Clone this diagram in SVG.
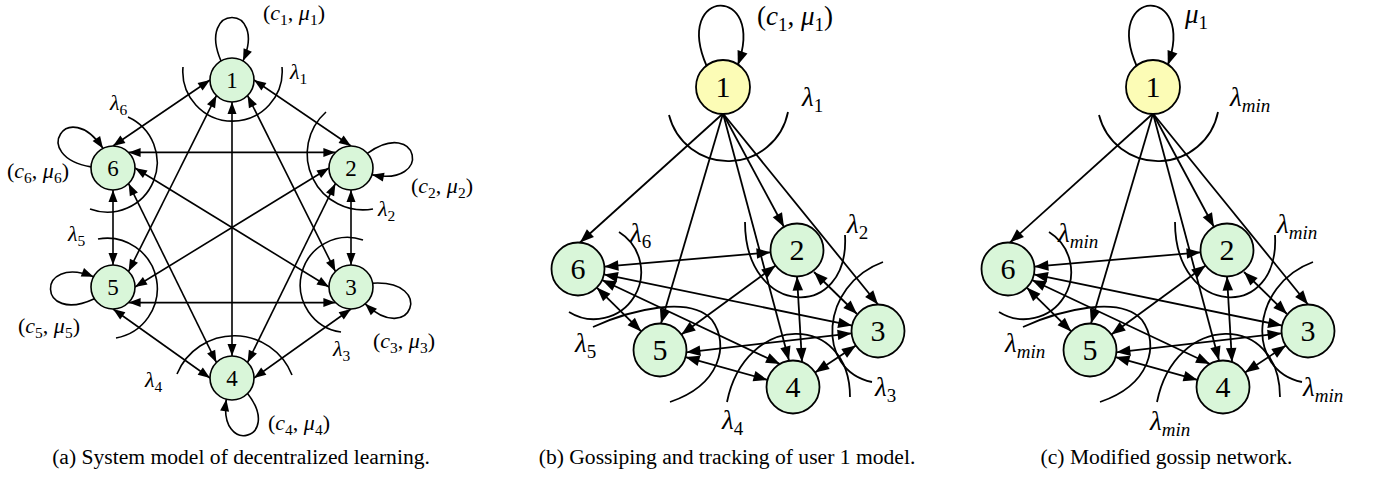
<svg xmlns="http://www.w3.org/2000/svg" width="1380" height="481" viewBox="0 0 1380 481">
<rect width="1380" height="481" fill="#fff"/>
<g id="a-arcs" fill="none" stroke="#000" stroke-width="1.6">
<path d="M183,67 A49.7,49.7 0 1 0 282,67"/>
<path d="M326,112 A56,56 0 0 0 373,209"/>
<path d="M363,240 A47.5,47.5 0 1 0 341,332"/>
<path d="M177,374 A62,62 0 0 1 292,375"/>
<path d="M98,239 A50.3,50.3 0 0 1 116,338"/>
<path d="M128,117 A49.8,49.8 0 0 1 90,209"/>
</g>
<g id="a-connectors">
<g fill="none" stroke="#000" stroke-width="1.6">
<path d="M210,80 L113,146"/>
<path d="M254,80 L351,146"/>
<path d="M232,102 L232,356"/>
<path d="M216.4,95.6 L128.6,271.4"/>
<path d="M247.6,95.6 L335.4,271.4"/>
<path d="M128.6,152.4 L335.4,152.4"/>
<path d="M135,168 L329,287"/>
<path d="M113,190 L113,265"/>
<path d="M128.6,183.6 L216.4,362.4"/>
<path d="M329,168 L135,287"/>
<path d="M351,190 L351,265"/>
<path d="M335.4,183.6 L247.6,362.4"/>
<path d="M128.6,302.6 L335.4,302.6"/>
<path d="M113,309 L210,378"/>
<path d="M351,309 L254,378"/>
<path d="M221,60.95 C196.1,3 267.9,3 243,60.95"/>
<path d="M367.35,153.28 C418.9,116.8 433.8,187.1 371.92,174.8"/>
<path d="M372.67,283.18 C435.7,279.6 411.1,347.1 365.14,303.85"/>
<path d="M247.56,393.56 C283.4,439.3 218.1,456.8 226.3,399.25"/>
<path d="M94.34,298.66 C37.27,325.6 34.76,253.8 93.58,276.67"/>
<path d="M91.03,166.85 C28.8,156.2 67.96,95.9 103.01,148.4"/>
</g>
<g fill="#000">
<polygon points="0,0 -12,-4.5 -12,4.5" transform="translate(113,146) rotate(145.8)"/>
<polygon points="0,0 -12,-4.5 -12,4.5" transform="translate(210,80) rotate(-34.2)"/>
<polygon points="0,0 -12,-4.5 -12,4.5" transform="translate(351,146) rotate(34.2)"/>
<polygon points="0,0 -12,-4.5 -12,4.5" transform="translate(254,80) rotate(-145.8)"/>
<polygon points="0,0 -12,-4.5 -12,4.5" transform="translate(232,356) rotate(90)"/>
<polygon points="0,0 -12,-4.5 -12,4.5" transform="translate(232,102) rotate(-90)"/>
<polygon points="0,0 -12,-4.5 -12,4.5" transform="translate(128.6,271.4) rotate(116.5)"/>
<polygon points="0,0 -12,-4.5 -12,4.5" transform="translate(216.4,95.6) rotate(-63.5)"/>
<polygon points="0,0 -12,-4.5 -12,4.5" transform="translate(335.4,271.4) rotate(63.5)"/>
<polygon points="0,0 -12,-4.5 -12,4.5" transform="translate(247.6,95.6) rotate(-116.5)"/>
<polygon points="0,0 -12,-4.5 -12,4.5" transform="translate(335.4,152.4) rotate(0)"/>
<polygon points="0,0 -12,-4.5 -12,4.5" transform="translate(128.6,152.4) rotate(180)"/>
<polygon points="0,0 -12,-4.5 -12,4.5" transform="translate(329,287) rotate(31.5)"/>
<polygon points="0,0 -12,-4.5 -12,4.5" transform="translate(135,168) rotate(-148.5)"/>
<polygon points="0,0 -12,-4.5 -12,4.5" transform="translate(113,265) rotate(90)"/>
<polygon points="0,0 -12,-4.5 -12,4.5" transform="translate(113,190) rotate(-90)"/>
<polygon points="0,0 -12,-4.5 -12,4.5" transform="translate(216.4,362.4) rotate(63.9)"/>
<polygon points="0,0 -12,-4.5 -12,4.5" transform="translate(128.6,183.6) rotate(-116.1)"/>
<polygon points="0,0 -12,-4.5 -12,4.5" transform="translate(135,287) rotate(148.5)"/>
<polygon points="0,0 -12,-4.5 -12,4.5" transform="translate(329,168) rotate(-31.5)"/>
<polygon points="0,0 -12,-4.5 -12,4.5" transform="translate(351,265) rotate(90)"/>
<polygon points="0,0 -12,-4.5 -12,4.5" transform="translate(351,190) rotate(-90)"/>
<polygon points="0,0 -12,-4.5 -12,4.5" transform="translate(247.6,362.4) rotate(116.2)"/>
<polygon points="0,0 -12,-4.5 -12,4.5" transform="translate(335.4,183.6) rotate(-63.8)"/>
<polygon points="0,0 -12,-4.5 -12,4.5" transform="translate(335.4,302.6) rotate(0)"/>
<polygon points="0,0 -12,-4.5 -12,4.5" transform="translate(128.6,302.6) rotate(180)"/>
<polygon points="0,0 -12,-4.5 -12,4.5" transform="translate(210,378) rotate(35.4)"/>
<polygon points="0,0 -12,-4.5 -12,4.5" transform="translate(113,309) rotate(-144.6)"/>
<polygon points="0,0 -12,-4.5 -12,4.5" transform="translate(254,378) rotate(144.6)"/>
<polygon points="0,0 -12,-4.5 -12,4.5" transform="translate(351,309) rotate(-35.4)"/>
<polygon points="0,0 -12,-4.5 -12,4.5" transform="translate(243,60.95) rotate(113.3)"/>
<polygon points="0,0 -12,-4.5 -12,4.5" transform="translate(371.92,174.8) rotate(-168.8)"/>
<polygon points="0,0 -12,-4.5 -12,4.5" transform="translate(365.14,303.85) rotate(-136.7)"/>
<polygon points="0,0 -12,-4.5 -12,4.5" transform="translate(226.3,399.25) rotate(-81.9)"/>
<polygon points="0,0 -12,-4.5 -12,4.5" transform="translate(93.58,276.67) rotate(21.3)"/>
<polygon points="0,0 -12,-4.5 -12,4.5" transform="translate(103.01,148.4) rotate(56.3)"/>
</g>
</g>
<g id="a-node1"><circle cx="232" cy="80" r="22" fill="#d9f6d9" stroke="#000" stroke-width="1.6"/><text font-family="Liberation Serif" font-size="23" text-anchor="middle" x="232" y="87.8">1</text></g>
<g id="a-node2"><circle cx="351" cy="168" r="22" fill="#d9f6d9" stroke="#000" stroke-width="1.6"/><text font-family="Liberation Serif" font-size="23" text-anchor="middle" x="351" y="175.8">2</text></g>
<g id="a-node3"><circle cx="351" cy="287" r="22" fill="#d9f6d9" stroke="#000" stroke-width="1.6"/><text font-family="Liberation Serif" font-size="23" text-anchor="middle" x="351" y="294.8">3</text></g>
<g id="a-node4"><circle cx="232" cy="378" r="22" fill="#d9f6d9" stroke="#000" stroke-width="1.6"/><text font-family="Liberation Serif" font-size="23" text-anchor="middle" x="232" y="385.8">4</text></g>
<g id="a-node5"><circle cx="113" cy="287" r="22" fill="#d9f6d9" stroke="#000" stroke-width="1.6"/><text font-family="Liberation Serif" font-size="23" text-anchor="middle" x="113" y="294.8">5</text></g>
<g id="a-node6"><circle cx="113" cy="168" r="22" fill="#d9f6d9" stroke="#000" stroke-width="1.6"/><text font-family="Liberation Serif" font-size="23" text-anchor="middle" x="113" y="175.8">6</text></g>
<g id="a-labels">
<text font-family="Liberation Serif" font-size="22" x="263" y="20">(<tspan font-style="italic">c</tspan><tspan dy="4.5" font-size="15.5">1</tspan><tspan dy="-4.5">, </tspan><tspan font-style="italic">μ</tspan><tspan dy="4.5" font-size="15.5">1</tspan><tspan dy="-4.5">)</tspan></text>
<text font-family="Liberation Serif" font-size="22" x="411" y="193">(<tspan font-style="italic">c</tspan><tspan dy="4.5" font-size="15.5">2</tspan><tspan dy="-4.5">, </tspan><tspan font-style="italic">μ</tspan><tspan dy="4.5" font-size="15.5">2</tspan><tspan dy="-4.5">)</tspan></text>
<text font-family="Liberation Serif" font-size="22" x="373" y="348">(<tspan font-style="italic">c</tspan><tspan dy="4.5" font-size="15.5">3</tspan><tspan dy="-4.5">, </tspan><tspan font-style="italic">μ</tspan><tspan dy="4.5" font-size="15.5">3</tspan><tspan dy="-4.5">)</tspan></text>
<text font-family="Liberation Serif" font-size="22" x="268" y="430">(<tspan font-style="italic">c</tspan><tspan dy="4.5" font-size="15.5">4</tspan><tspan dy="-4.5">, </tspan><tspan font-style="italic">μ</tspan><tspan dy="4.5" font-size="15.5">4</tspan><tspan dy="-4.5">)</tspan></text>
<text font-family="Liberation Serif" font-size="22" x="18" y="333">(<tspan font-style="italic">c</tspan><tspan dy="4.5" font-size="15.5">5</tspan><tspan dy="-4.5">, </tspan><tspan font-style="italic">μ</tspan><tspan dy="4.5" font-size="15.5">5</tspan><tspan dy="-4.5">)</tspan></text>
<text font-family="Liberation Serif" font-size="22" x="7" y="178">(<tspan font-style="italic">c</tspan><tspan dy="4.5" font-size="15.5">6</tspan><tspan dy="-4.5">, </tspan><tspan font-style="italic">μ</tspan><tspan dy="4.5" font-size="15.5">6</tspan><tspan dy="-4.5">)</tspan></text>
<text font-family="Liberation Serif" font-size="22" x="290" y="79"><tspan font-style="italic">λ</tspan><tspan dy="4.5" font-size="15.5">1</tspan></text>
<text font-family="Liberation Serif" font-size="22" x="378" y="216"><tspan font-style="italic">λ</tspan><tspan dy="4.5" font-size="15.5">2</tspan></text>
<text font-family="Liberation Serif" font-size="22" x="333" y="356"><tspan font-style="italic">λ</tspan><tspan dy="4.5" font-size="15.5">3</tspan></text>
<text font-family="Liberation Serif" font-size="22" x="145" y="387"><tspan font-style="italic">λ</tspan><tspan dy="4.5" font-size="15.5">4</tspan></text>
<text font-family="Liberation Serif" font-size="22" x="68" y="241"><tspan font-style="italic">λ</tspan><tspan dy="4.5" font-size="15.5">5</tspan></text>
<text font-family="Liberation Serif" font-size="22" x="110" y="110"><tspan font-style="italic">λ</tspan><tspan dy="4.5" font-size="15.5">6</tspan></text>
<text font-family="Liberation Serif" font-size="21.6" text-anchor="middle" x="241" y="464">(a) System model of decentralized learning.</text>
</g>
<g id="b-arcs" fill="none" stroke="#000" stroke-width="1.8">
<path d="M669,115 A61,61 0 0 0 788,112"/>
<path d="M619,232 A47,47 0 0 1 569,312"/>
<path d="M745,222 C745,318 850,322 845,235"/>
<path d="M883,262 C820,285 815,370 872,382"/>
<path d="M727,402 C745,312 850,312 850,397"/>
<path d="M593,327 C630,310 690,295 712,320 C730,345 720,385 670,402"/>
</g>
<g id="b-connectors">
<g fill="none" stroke="#000" stroke-width="1.8">
<path d="M723,113.5 L580,242.5"/>
<path d="M723,113.5 L661,323.5"/>
<path d="M723,113.5 L789,360.5"/>
<path d="M723,113.5 L784,227"/>
<path d="M723,113.5 L878,304.5"/>
<path d="M706.7,66.1 C672.2,-12.8 766.8,-16.1 737.8,65"/>
<path d="M604.4,266.7 L770.6,252.3"/>
<path d="M603.9,274.4 L852.1,325.6"/>
<path d="M602,280 L780,364"/>
<path d="M596.8,287.6 L641.2,331.4"/>
<path d="M775.6,265.6 L681.4,334.4"/>
<path d="M797,276.5 L802,362"/>
<path d="M814,272 L857,314"/>
<path d="M851.6,333.3 L686.4,352.3"/>
<path d="M855.9,345.6 L815.1,372.4"/>
<path d="M685.5,357.1 L767.5,379.9"/>
</g>
<g fill="#000">
<polygon points="0,0 -14,-5.25 -14,5.25" transform="translate(580,242.5) rotate(137.95)"/>
<polygon points="0,0 -14,-5.25 -14,5.25" transform="translate(661,323.5) rotate(106.45)"/>
<polygon points="0,0 -14,-5.25 -14,5.25" transform="translate(789,360.5) rotate(75.04)"/>
<polygon points="0,0 -14,-5.25 -14,5.25" transform="translate(784,227) rotate(61.75)"/>
<polygon points="0,0 -14,-5.25 -14,5.25" transform="translate(878,304.5) rotate(50.94)"/>
<polygon points="0,0 -14,-5.25 -14,5.25" transform="translate(737.8,65) rotate(109.7)"/>
<polygon points="0,0 -14,-5.25 -14,5.25" transform="translate(770.6,252.3) rotate(-4.95)"/>
<polygon points="0,0 -14,-5.25 -14,5.25" transform="translate(604.4,266.7) rotate(175.05)"/>
<polygon points="0,0 -14,-5.25 -14,5.25" transform="translate(852.1,325.6) rotate(11.66)"/>
<polygon points="0,0 -14,-5.25 -14,5.25" transform="translate(603.9,274.4) rotate(-168.34)"/>
<polygon points="0,0 -14,-5.25 -14,5.25" transform="translate(780,364) rotate(25.26)"/>
<polygon points="0,0 -14,-5.25 -14,5.25" transform="translate(602,280) rotate(-154.74)"/>
<polygon points="0,0 -14,-5.25 -14,5.25" transform="translate(641.2,331.4) rotate(44.6)"/>
<polygon points="0,0 -14,-5.25 -14,5.25" transform="translate(596.8,287.6) rotate(-135.4)"/>
<polygon points="0,0 -14,-5.25 -14,5.25" transform="translate(681.4,334.4) rotate(143.9)"/>
<polygon points="0,0 -14,-5.25 -14,5.25" transform="translate(775.6,265.6) rotate(-36.1)"/>
<polygon points="0,0 -14,-5.25 -14,5.25" transform="translate(802,362) rotate(86.65)"/>
<polygon points="0,0 -14,-5.25 -14,5.25" transform="translate(797,276.5) rotate(-93.35)"/>
<polygon points="0,0 -14,-5.25 -14,5.25" transform="translate(857,314) rotate(44.3)"/>
<polygon points="0,0 -14,-5.25 -14,5.25" transform="translate(814,272) rotate(-135.7)"/>
<polygon points="0,0 -14,-5.25 -14,5.25" transform="translate(686.4,352.3) rotate(173.4)"/>
<polygon points="0,0 -14,-5.25 -14,5.25" transform="translate(851.6,333.3) rotate(-6.56)"/>
<polygon points="0,0 -14,-5.25 -14,5.25" transform="translate(815.1,372.4) rotate(146.7)"/>
<polygon points="0,0 -14,-5.25 -14,5.25" transform="translate(855.9,345.6) rotate(-33.3)"/>
<polygon points="0,0 -14,-5.25 -14,5.25" transform="translate(767.5,379.9) rotate(15.5)"/>
<polygon points="0,0 -14,-5.25 -14,5.25" transform="translate(685.5,357.1) rotate(-164.5)"/>
</g>
</g>
<g id="b-node1"><circle cx="723" cy="87" r="27" fill="#fcfcb6" stroke="#000" stroke-width="1.8"/><text font-family="Liberation Serif" font-size="30" text-anchor="middle" x="723" y="97">1</text></g>
<g id="b-node2"><circle cx="797" cy="250" r="26.5" fill="#d9f6d9" stroke="#000" stroke-width="1.8"/><text font-family="Liberation Serif" font-size="30" text-anchor="middle" x="797" y="260">2</text></g>
<g id="b-node3"><circle cx="878" cy="331" r="26.5" fill="#d9f6d9" stroke="#000" stroke-width="1.8"/><text font-family="Liberation Serif" font-size="30" text-anchor="middle" x="878" y="341">3</text></g>
<g id="b-node4"><circle cx="793" cy="387" r="26.5" fill="#d9f6d9" stroke="#000" stroke-width="1.8"/><text font-family="Liberation Serif" font-size="30" text-anchor="middle" x="793" y="397">4</text></g>
<g id="b-node5"><circle cx="660" cy="350" r="26.5" fill="#d9f6d9" stroke="#000" stroke-width="1.8"/><text font-family="Liberation Serif" font-size="30" text-anchor="middle" x="660" y="360">5</text></g>
<g id="b-node6"><circle cx="578" cy="269" r="26.5" fill="#d9f6d9" stroke="#000" stroke-width="1.8"/><text font-family="Liberation Serif" font-size="30" text-anchor="middle" x="578" y="279">6</text></g>
<g id="b-labels">
<text font-family="Liberation Serif" font-size="27" x="757" y="25">(<tspan font-style="italic">c</tspan><tspan dy="5.5" font-size="19">1</tspan><tspan dy="-5.5">, </tspan><tspan font-style="italic">μ</tspan><tspan dy="5.5" font-size="19">1</tspan><tspan dy="-5.5">)</tspan></text>
<text font-family="Liberation Serif" font-size="27" x="802" y="106"><tspan font-style="italic">λ</tspan><tspan dy="5.5" font-size="19">1</tspan></text>
<text font-family="Liberation Serif" font-size="27" x="847" y="233"><tspan font-style="italic">λ</tspan><tspan dy="5.5" font-size="19">2</tspan></text>
<text font-family="Liberation Serif" font-size="27" x="875" y="396"><tspan font-style="italic">λ</tspan><tspan dy="5.5" font-size="19">3</tspan></text>
<text font-family="Liberation Serif" font-size="27" x="722" y="429"><tspan font-style="italic">λ</tspan><tspan dy="5.5" font-size="19">4</tspan></text>
<text font-family="Liberation Serif" font-size="27" x="575" y="352"><tspan font-style="italic">λ</tspan><tspan dy="5.5" font-size="19">5</tspan></text>
<text font-family="Liberation Serif" font-size="27" x="630" y="242"><tspan font-style="italic">λ</tspan><tspan dy="5.5" font-size="19">6</tspan></text>
<text font-family="Liberation Serif" font-size="21.6" text-anchor="middle" x="727" y="464">(b) Gossiping and tracking of user 1 model.</text>
</g>
<g id="c-arcs" transform="translate(430,0)" fill="none" stroke="#000" stroke-width="1.8">
<path d="M669,115 A61,61 0 0 0 788,112"/>
<path d="M619,232 A47,47 0 0 1 569,312"/>
<path d="M745,222 C745,318 850,322 845,235"/>
<path d="M883,262 C820,285 815,370 872,382"/>
<path d="M727,402 C745,312 850,312 850,397"/>
<path d="M593,327 C630,310 690,295 712,320 C730,345 720,385 670,402"/>
</g>
<g id="c-connectors" transform="translate(430,0)">
<g fill="none" stroke="#000" stroke-width="1.8">
<path d="M723,113.5 L580,242.5"/>
<path d="M723,113.5 L661,323.5"/>
<path d="M723,113.5 L789,360.5"/>
<path d="M723,113.5 L784,227"/>
<path d="M723,113.5 L878,304.5"/>
<path d="M706.7,66.1 C672.2,-12.8 766.8,-16.1 737.8,65"/>
<path d="M604.4,266.7 L770.6,252.3"/>
<path d="M603.9,274.4 L852.1,325.6"/>
<path d="M602,280 L780,364"/>
<path d="M596.8,287.6 L641.2,331.4"/>
<path d="M775.6,265.6 L681.4,334.4"/>
<path d="M797,276.5 L802,362"/>
<path d="M814,272 L857,314"/>
<path d="M851.6,333.3 L686.4,352.3"/>
<path d="M855.9,345.6 L815.1,372.4"/>
<path d="M685.5,357.1 L767.5,379.9"/>
</g>
<g fill="#000">
<polygon points="0,0 -14,-5.25 -14,5.25" transform="translate(580,242.5) rotate(137.95)"/>
<polygon points="0,0 -14,-5.25 -14,5.25" transform="translate(661,323.5) rotate(106.45)"/>
<polygon points="0,0 -14,-5.25 -14,5.25" transform="translate(789,360.5) rotate(75.04)"/>
<polygon points="0,0 -14,-5.25 -14,5.25" transform="translate(784,227) rotate(61.75)"/>
<polygon points="0,0 -14,-5.25 -14,5.25" transform="translate(878,304.5) rotate(50.94)"/>
<polygon points="0,0 -14,-5.25 -14,5.25" transform="translate(737.8,65) rotate(109.7)"/>
<polygon points="0,0 -14,-5.25 -14,5.25" transform="translate(770.6,252.3) rotate(-4.95)"/>
<polygon points="0,0 -14,-5.25 -14,5.25" transform="translate(604.4,266.7) rotate(175.05)"/>
<polygon points="0,0 -14,-5.25 -14,5.25" transform="translate(852.1,325.6) rotate(11.66)"/>
<polygon points="0,0 -14,-5.25 -14,5.25" transform="translate(603.9,274.4) rotate(-168.34)"/>
<polygon points="0,0 -14,-5.25 -14,5.25" transform="translate(780,364) rotate(25.26)"/>
<polygon points="0,0 -14,-5.25 -14,5.25" transform="translate(602,280) rotate(-154.74)"/>
<polygon points="0,0 -14,-5.25 -14,5.25" transform="translate(641.2,331.4) rotate(44.6)"/>
<polygon points="0,0 -14,-5.25 -14,5.25" transform="translate(596.8,287.6) rotate(-135.4)"/>
<polygon points="0,0 -14,-5.25 -14,5.25" transform="translate(681.4,334.4) rotate(143.9)"/>
<polygon points="0,0 -14,-5.25 -14,5.25" transform="translate(775.6,265.6) rotate(-36.1)"/>
<polygon points="0,0 -14,-5.25 -14,5.25" transform="translate(802,362) rotate(86.65)"/>
<polygon points="0,0 -14,-5.25 -14,5.25" transform="translate(797,276.5) rotate(-93.35)"/>
<polygon points="0,0 -14,-5.25 -14,5.25" transform="translate(857,314) rotate(44.3)"/>
<polygon points="0,0 -14,-5.25 -14,5.25" transform="translate(814,272) rotate(-135.7)"/>
<polygon points="0,0 -14,-5.25 -14,5.25" transform="translate(686.4,352.3) rotate(173.4)"/>
<polygon points="0,0 -14,-5.25 -14,5.25" transform="translate(851.6,333.3) rotate(-6.56)"/>
<polygon points="0,0 -14,-5.25 -14,5.25" transform="translate(815.1,372.4) rotate(146.7)"/>
<polygon points="0,0 -14,-5.25 -14,5.25" transform="translate(855.9,345.6) rotate(-33.3)"/>
<polygon points="0,0 -14,-5.25 -14,5.25" transform="translate(767.5,379.9) rotate(15.5)"/>
<polygon points="0,0 -14,-5.25 -14,5.25" transform="translate(685.5,357.1) rotate(-164.5)"/>
</g>
</g>
<g id="c-node1"><circle cx="1153" cy="87" r="27" fill="#fcfcb6" stroke="#000" stroke-width="1.8"/><text font-family="Liberation Serif" font-size="30" text-anchor="middle" x="1153" y="97">1</text></g>
<g id="c-node2"><circle cx="1227" cy="250" r="26.5" fill="#d9f6d9" stroke="#000" stroke-width="1.8"/><text font-family="Liberation Serif" font-size="30" text-anchor="middle" x="1227" y="260">2</text></g>
<g id="c-node3"><circle cx="1308" cy="331" r="26.5" fill="#d9f6d9" stroke="#000" stroke-width="1.8"/><text font-family="Liberation Serif" font-size="30" text-anchor="middle" x="1308" y="341">3</text></g>
<g id="c-node4"><circle cx="1223" cy="387" r="26.5" fill="#d9f6d9" stroke="#000" stroke-width="1.8"/><text font-family="Liberation Serif" font-size="30" text-anchor="middle" x="1223" y="397">4</text></g>
<g id="c-node5"><circle cx="1090" cy="350" r="26.5" fill="#d9f6d9" stroke="#000" stroke-width="1.8"/><text font-family="Liberation Serif" font-size="30" text-anchor="middle" x="1090" y="360">5</text></g>
<g id="c-node6"><circle cx="1008" cy="269" r="26.5" fill="#d9f6d9" stroke="#000" stroke-width="1.8"/><text font-family="Liberation Serif" font-size="30" text-anchor="middle" x="1008" y="279">6</text></g>
<g id="c-labels">
<text font-family="Liberation Serif" font-size="27" x="1185" y="23"><tspan font-style="italic">μ</tspan><tspan dy="5.5" font-size="19">1</tspan></text>
<text font-family="Liberation Serif" font-size="27" x="1230" y="106"><tspan font-style="italic">λ</tspan><tspan font-style="italic" dy="5.5" font-size="19">min</tspan></text>
<text font-family="Liberation Serif" font-size="27" x="1277" y="233"><tspan font-style="italic">λ</tspan><tspan font-style="italic" dy="5.5" font-size="19">min</tspan></text>
<text font-family="Liberation Serif" font-size="27" x="1303" y="396"><tspan font-style="italic">λ</tspan><tspan font-style="italic" dy="5.5" font-size="19">min</tspan></text>
<text font-family="Liberation Serif" font-size="27" x="1150" y="430"><tspan font-style="italic">λ</tspan><tspan font-style="italic" dy="5.5" font-size="19">min</tspan></text>
<text font-family="Liberation Serif" font-size="27" x="1005" y="352"><tspan font-style="italic">λ</tspan><tspan font-style="italic" dy="5.5" font-size="19">min</tspan></text>
<text font-family="Liberation Serif" font-size="27" x="1058" y="242"><tspan font-style="italic">λ</tspan><tspan font-style="italic" dy="5.5" font-size="19">min</tspan></text>
<text font-family="Liberation Serif" font-size="21.6" text-anchor="middle" x="1166.5" y="464">(c) Modified gossip network.</text>
</g>
</svg>
